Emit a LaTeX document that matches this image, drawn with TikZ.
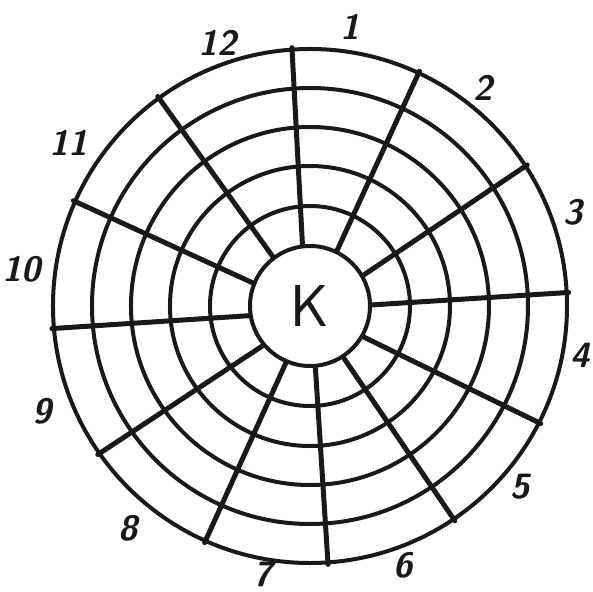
\documentclass[tikz,border=0pt]{standalone}
\usepackage{xcolor}
\usepackage{tikz}
\usetikzlibrary{positioning,calc}
\newcommand{\figdigit}{\sffamily\bfseries\slshape\fontsize{25}{25}\selectfont}
\newcommand{\figcore}{\sffamily\fontsize{42}{42}\selectfont}
\definecolor{wbInk}{RGB}{28,24,24}
\tikzset{
  wbRing/.style={draw=wbInk, circle, line width=1mm, inner sep=0pt},
  wbCore/.style={wbRing, font=\figcore, text=wbInk},
  wbSpoke/.style={line width=1.25mm, draw=wbInk, line cap=round},
  wbLabel/.style={font=\figdigit, text=wbInk, inner sep=0pt}
}
\begin{document}
\begin{tikzpicture}[x=.25mm,y=.25mm]
\useasboundingbox (-310,-286) rectangle (283,306);
\node[wbRing,minimum size=128.5mm] (rim) at (0,0) {};
\node[wbRing,minimum size=109mm] (ringD) at (0,0) {};
\node[wbRing,minimum size=89.5mm] (ringC) at (0,0) {};
\node[wbRing,minimum size=70mm] (ringB) at (0,0) {};
\node[wbRing,minimum size=50mm] (ringA) at (0,0) {};
\node[wbCore,minimum size=30mm,fill=white] (core) at (0,0) {K};
% spokes: angle on the core / angle on the rim
\foreach \a/\b in {97/94, 64/65, 30/33.5, 1/3, -30/-27, -57/-56,
                   -85/-86, -113/-114, -140/-145, -171/-175, 158/156, 127/126}
  \draw[wbSpoke] (core.\a) -- (rim.\b);
\node[wbLabel] (n1) at (40,279) {1};
\node[wbLabel] (n2) at (173,218) {2};
\node[wbLabel] (n3) at (263,94) {3};
\node[wbLabel] (n4) at (270,-49) {4};
\node[wbLabel] (n5) at (210,-181) {5};
\node[wbLabel] (n6) at (93,-259) {6};
\node[wbLabel] (n7) at (-47,-268) {7};
\node[wbLabel] (n8) at (-182,-222) {8};
\node[wbLabel] (n9) at (-268,-105) {9};
\node[wbLabel] (n10) at (-288,37) {10};
\node[wbLabel] (n11) at (-241,163) {11};
\node[wbLabel] (n12) at (-92,263) {12};
\end{tikzpicture}
\end{document}
